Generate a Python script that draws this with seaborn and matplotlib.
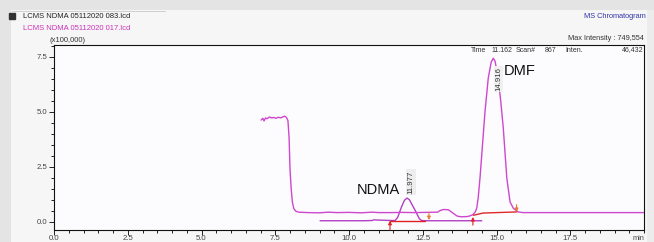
import matplotlib
matplotlib.use("Agg")
import matplotlib.pyplot as plt
import seaborn as sns
import pandas as pd
from matplotlib.ticker import MultipleLocator
from matplotlib.patches import Rectangle
from matplotlib.lines import Line2D

# ---------------- data (intensity in units of x100,000) ----------------
upper_t = [7.02, 7.08, 7.12, 7.17, 7.22, 7.30, 7.38, 7.45, 7.52, 7.60, 7.68, 7.75, 7.82, 7.88,
           7.93, 7.97, 8.00, 8.04, 8.08, 8.13, 8.20, 8.30, 8.60, 9.00, 9.30, 9.60, 10.0, 10.4,
           10.8, 11.0, 11.4, 11.8, 12.2, 12.6, 13.0, 13.1, 13.2, 13.37, 13.5, 13.67, 13.8, 14.0,
           14.1, 14.2, 14.28, 14.33, 14.38, 14.44, 14.52, 14.61, 14.72, 14.82, 14.89, 14.95,
           15.06, 15.15, 15.23, 15.35, 15.46, 15.57, 15.73, 15.9, 17.0, 18.0, 19.0, 20.0]
upper_v = [4.62, 4.70, 4.58, 4.72, 4.68, 4.76, 4.72, 4.74, 4.70, 4.75, 4.72, 4.76, 4.80, 4.74,
           4.60, 3.80, 2.40, 1.50, 0.90, 0.60, 0.48, 0.44, 0.42, 0.41, 0.44, 0.42, 0.43, 0.41,
           0.44, 0.42, 0.42, 0.43, 0.42, 0.43, 0.44, 0.52, 0.56, 0.55, 0.42, 0.26, 0.23, 0.24,
           0.27, 0.33, 0.45, 0.62, 1.10, 1.98, 3.40, 5.00, 6.52, 7.25, 7.43, 7.30,
           6.52, 5.40, 4.26, 1.98, 0.90, 0.62, 0.45, 0.42, 0.42, 0.42, 0.42, 0.42]

lower_t = [9.02, 10.0, 10.5, 10.78, 10.84, 11.0, 11.5, 11.56, 11.65, 11.78, 11.88, 11.97,
           12.05, 12.15, 12.29, 12.38, 12.46, 12.6, 13.5, 14.0, 14.5]
lower_v = [0.05, 0.05, 0.05, 0.06, 0.09, 0.08, 0.06, 0.06, 0.20, 0.68, 0.98, 1.08,
           1.00, 0.75, 0.40, 0.15, 0.06, 0.05, 0.05, 0.05, 0.05]

# integration baselines
ndma_base_t = [11.39, 12.58]
ndma_base_v = [0.06, 0.06]
dmf_base_t = [14.22, 14.55, 15.68]
dmf_base_v = [0.30, 0.40, 0.45]

# peak start / end markers: (time, from, to)
up_marks = [(11.39, -0.37, 0.05), (14.20, -0.15, 0.22)]
down_marks = [(12.71, 0.42, 0.08), (15.68, 0.78, 0.45)]

peak_names = ["NDMA", "DMF"]
peak_rt = [11.977, 14.916]
peak_rt_labels = ["11.977", "14.916"]

x_ticks = [0.0, 2.5, 5.0, 7.5, 10.0, 12.5, 15.0, 17.5]
x_tick_labels = ["0.0", "2.5", "5.0", "7.5", "10.0", "12.5", "15.0", "17.5"]
y_ticks = [0.0, 2.5, 5.0, 7.5]
y_tick_labels = ["0.0", "2.5", "5.0", "7.5"]

# ---------------- style ----------------
sns.set_theme(style="white")
plt.rcParams["font.family"] = ["Liberation Sans", "DejaVu Sans"]

W, H = 654, 242
fig = plt.figure(figsize=(W / 100, H / 100), dpi=100, facecolor="#f6f6f6")

# gray frame strips of the software window
fig.patches.append(Rectangle((0, (H - 10) / H), 1, 10 / H, transform=fig.transFigure,
                             facecolor="#e4e4e4", edgecolor="none", zorder=0))
fig.patches.append(Rectangle((0, 0), 11 / W, 1, transform=fig.transFigure,
                             facecolor="#e4e4e4", edgecolor="none", zorder=0))
fig.patches.append(Rectangle((647 / W, 0), 7 / W, (H - 10) / H, transform=fig.transFigure,
                             facecolor="#ececec", edgecolor="none", zorder=0))
fig.add_artist(Line2D([12 / W, 165 / W], [(H - 11) / H] * 2, transform=fig.transFigure,
                      color="#c8c8c8", lw=0.6))

ax = fig.add_axes([54 / W, 12 / H, 590 / W, 185 / H])
ax.set_facecolor("#fcfcfe")

df_u = pd.DataFrame({"t": upper_t, "v": upper_v})
df_l = pd.DataFrame({"t": lower_t, "v": lower_v})
sns.lineplot(data=df_l, x="t", y="v", ax=ax, color="#b040c4", lw=1.0,
             sort=False, estimator=None, zorder=3)
sns.lineplot(data=df_u, x="t", y="v", ax=ax, color="#cf46cf", lw=1.0,
             sort=False, estimator=None, zorder=4)

ax.plot(ndma_base_t, ndma_base_v, color="#e02020", lw=1.0, zorder=5)
ax.plot(dmf_base_t, dmf_base_v, color="#e02828", lw=1.0, zorder=5)
for t, y0, y1 in up_marks:
    ax.annotate("", xy=(t, y1), xytext=(t, y0),
                arrowprops=dict(arrowstyle="-|>", color="#e02020", lw=0.8,
                                mutation_scale=5, shrinkA=0, shrinkB=0), zorder=6)
for t, y0, y1 in down_marks:
    ax.annotate("", xy=(t, y1), xytext=(t, y0),
                arrowprops=dict(arrowstyle="-|>", color="#e87a3a", lw=0.8,
                                mutation_scale=5, shrinkA=0, shrinkB=0), zorder=6)

ax.set_xlim(0, 20)
ax.set_ylim(-0.37, 8.03)
ax.set_xlabel("")
ax.set_ylabel("")
ax.set_xticks(x_ticks)
ax.set_xticklabels(x_tick_labels)
ax.set_yticks(y_ticks)
ax.set_yticklabels(y_tick_labels)
ax.xaxis.set_minor_locator(MultipleLocator(0.5))
ax.yaxis.set_minor_locator(MultipleLocator(0.5))
ax.tick_params(which="both", direction="out", color="#222222", width=0.7,
               labelsize=5.6, labelcolor="#444444", bottom=True, left=True)
ax.tick_params(which="major", length=3.5, pad=1.0)
ax.tick_params(which="minor", length=2)
ax.tick_params(axis="x", which="major", pad=0.3)
for s in ax.spines.values():
    s.set_color("#111111")
    s.set_linewidth(0.8)

# peak annotations
ax.text(10.27, 1.44, peak_names[0], fontsize=10.5, color="#111111",
        va="center", ha="left", zorder=7)
ax.text(15.25, 6.85, peak_names[1], fontsize=10.5, color="#111111",
        va="center", ha="left", zorder=7)
ax.text(12.10, 1.8, peak_rt_labels[0], fontsize=5.6, color="#333333", rotation=90,
        ha="center", va="center", zorder=7,
        bbox=dict(boxstyle="square,pad=0.15", fc="#ededed", ec="none"))
ax.text(15.07, 6.5, peak_rt_labels[1], fontsize=5.6, color="#333333", rotation=90,
        ha="center", va="center", zorder=7,
        bbox=dict(boxstyle="square,pad=0.15", fc="#f0f0f0", ec="none"))

# header texts
def ft(x, y, s, **kw):
    fig.text(x / W, 1 - y / H, s, va="center", **kw)

fig.patches.append(Rectangle((9 / W, 1 - 19 / H), 6 / W, 6 / H, transform=fig.transFigure,
                             facecolor="#333333", edgecolor="#333333", zorder=3))
ft(23, 16, "LCMS NDMA 05112020 083.lcd", fontsize=5.5, color="#222222")
ft(23, 28, "LCMS NDMA 05112020 017.lcd", fontsize=5.5, color="#cc33bb")
ft(49, 40, "(x100,000)", fontsize=5.5, color="#333333")
ft(646, 16, "MS Chromatogram", fontsize=5.3, color="#3333aa", ha="right")
ft(644, 38, "Max Intensity : 749,554", fontsize=5.3, color="#333333", ha="right")
ft(471, 50, "Time", fontsize=5.0, color="#333333")
ft(491, 50, "11.162", fontsize=5.0, color="#333333")
ft(516, 50, "Scan#", fontsize=5.0, color="#333333")
ft(545, 50, "867", fontsize=5.0, color="#333333")
ft(565, 50, "Inten.", fontsize=5.0, color="#333333")
ft(643, 50, "46,432", fontsize=5.0, color="#333333", ha="right")
ft(638, 238, "min", fontsize=5.3, color="#444444", ha="center")

fig.savefig("out.png", dpi=100, facecolor=fig.get_facecolor())
